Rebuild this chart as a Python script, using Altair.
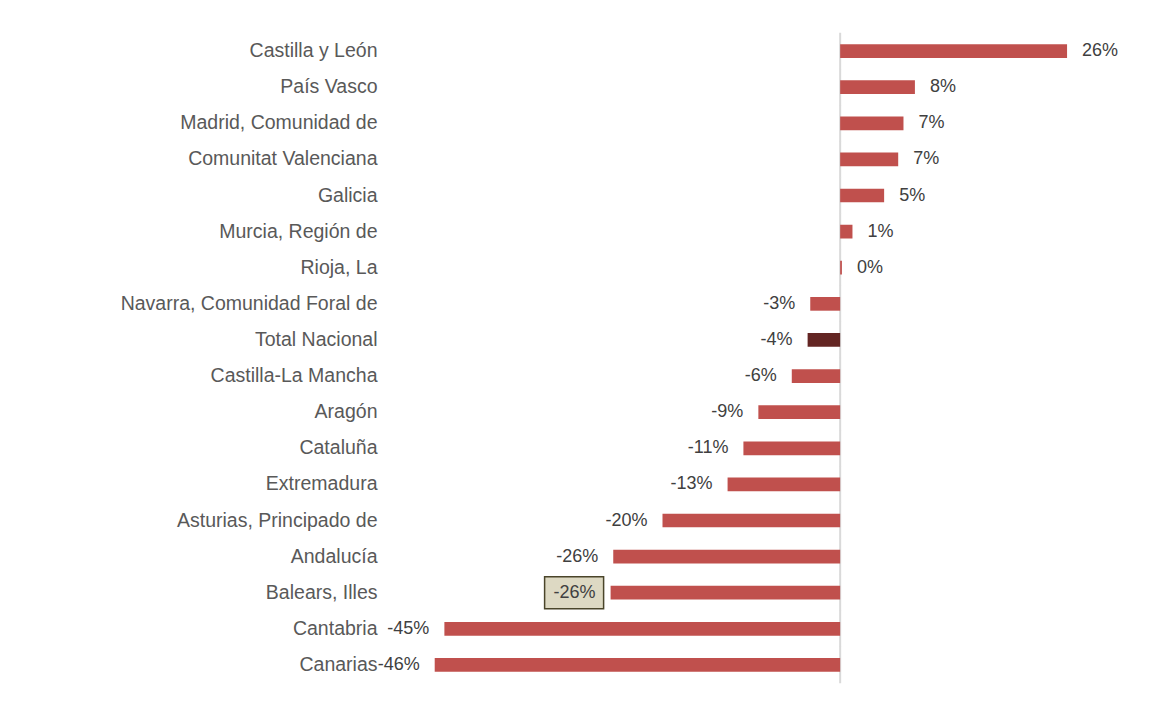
import altair as alt
import pandas as pd

regions = [
    "Castilla y León", "País Vasco", "Madrid, Comunidad de", "Comunitat Valenciana",
    "Galicia", "Murcia, Región de", "Rioja, La", "Navarra, Comunidad Foral de",
    "Total Nacional", "Castilla-La Mancha", "Aragón", "Cataluña", "Extremadura",
    "Asturias, Principado de", "Andalucía", "Balears, Illes", "Cantabria", "Canarias",
]
values = [25.8, 8.5, 7.2, 6.6, 5.0, 1.4, 0.2, -3.4, -3.7, -5.5, -9.3, -11.0, -12.8,
          -20.2, -25.8, -26.1, -45.0, -46.1]
labels = ["26%", "8%", "7%", "7%", "5%", "1%", "0%", "-3%", "-4%", "-6%", "-9%", "-11%",
          "-13%", "-20%", "-26%", "-26%", "-45%", "-46%"]
highlight_total = "Total Nacional"
boxed_label = "Balears, Illes"

df = pd.DataFrame({"region": regions, "val": values, "label": labels})
df["kind"] = ["total" if r == highlight_total else "region" for r in regions]

FONT = "Liberation Sans"
W, H = 686, 650
STEP = H / len(regions)

xscale = alt.Scale(domain=[-48, 30], nice=False, zero=False)
yscale = alt.Scale(domain=regions, paddingInner=0.62, paddingOuter=0.31)

base = alt.Chart(df)

# vertical zero line, built from one band-tall segment per category
zero = base.transform_calculate(zero="0").mark_bar(
    size=STEP + 0.5, xOffset=-1, x2Offset=1, color="#d9d9d9"
).encode(
    x=alt.X("zero:Q", scale=xscale, axis=None),
    x2="zero:Q",
    y=alt.Y("region:N", scale=yscale, title=None,
            axis=alt.Axis(ticks=False, domain=False, labelPadding=41, labelFontSize=19.5,
                          labelColor="#595959", labelFont=FONT, grid=False, labelLimit=0)),
)

bars = base.mark_bar().encode(
    x=alt.X("val:Q", scale=xscale, axis=None),
    y=alt.Y("region:N", scale=yscale),
    color=alt.Color("kind:N", scale=alt.Scale(domain=["region", "total"],
                                              range=["#C0504D", "#632523"]), legend=None),
)

box = base.transform_filter(alt.datum.region == boxed_label).mark_bar(
    size=32, xOffset=-66, x2Offset=-7, fill="#DDD9C3", stroke="#4A452A", strokeWidth=1.5
).encode(x="val:Q", x2="val:Q", y="region:N")

pos_text = base.transform_filter(alt.datum.val >= 0).mark_text(
    align="left", baseline="middle", dx=15, fontSize=18, font=FONT, color="#404040"
).encode(x="val:Q", y="region:N", text="label:N")

neg_text = base.transform_filter(alt.datum.val < 0).mark_text(
    align="right", baseline="middle", dx=-15, fontSize=18, font=FONT, color="#404040"
).encode(x="val:Q", y="region:N", text="label:N")

chart = alt.layer(zero, bars, box, pos_text, neg_text).properties(
    width=W, height=H,
    padding={"left": 112, "top": 24, "right": 20, "bottom": 5},
    background="white",
).configure_view(strokeWidth=0)

chart.save("out.html", embed_options={"renderer": "svg", "actions": False})
